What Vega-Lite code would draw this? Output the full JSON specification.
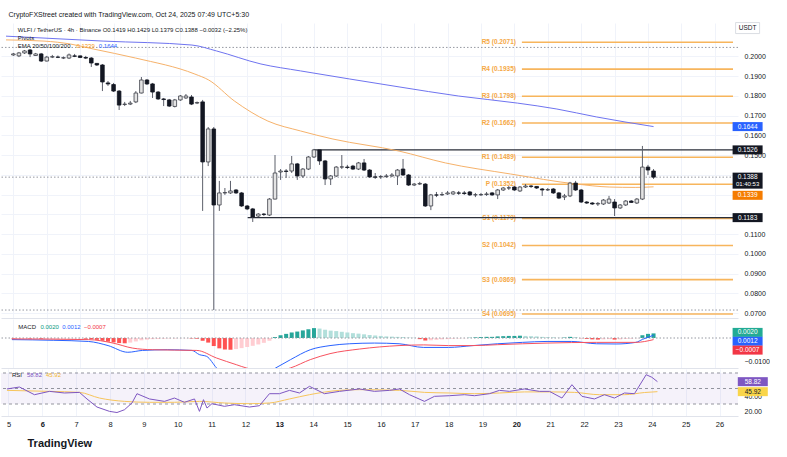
{
"$schema":"https://vega.github.io/schema/vega-lite/v6.json",
"background":"white",
"padding":{"left":0,"right":0,"top":11,"bottom":0},
"spacing":1,
"config":{"font":"Liberation Sans","view":{"stroke":null},"axis":{"gridColor":"#f0f3fa","domain":false,"ticks":false,"labelColor":"#131722","labelFontSize":7,"labelOverlap":false,"labelFlush":false,"zindex":0}},
"title":{"text":"TradingView","orient":"bottom","anchor":"start","fontSize":11,"fontWeight":"bold","color":"#131722","offset":10,"dx":27},
"datasets":{
"candles":[
{"t":5.0625,"o":0.2007,"h":0.2017,"l":0.2002,"c":0.2012},
{"t":5.2292,"o":0.2002,"h":0.2022,"l":0.1996,"c":0.2017},
{"t":5.3958,"o":0.2017,"h":0.2032,"l":0.2012,"c":0.2027},
{"t":5.5625,"o":0.2032,"h":0.2037,"l":0.1996,"c":0.2012},
{"t":5.7292,"o":0.2004,"h":0.2017,"l":0.2002,"c":0.2012},
{"t":5.8958,"o":0.2012,"h":0.2017,"l":0.1971,"c":0.1976},
{"t":6.0625,"o":0.1976,"h":0.2002,"l":0.1974,"c":0.1996},
{"t":6.2292,"o":0.1996,"h":0.2007,"l":0.1991,"c":0.1998},
{"t":6.3958,"o":0.1996,"h":0.2004,"l":0.1991,"c":0.1995},
{"t":6.5625,"o":0.1991,"h":0.1999,"l":0.1986,"c":0.1993},
{"t":6.7292,"o":0.1991,"h":0.2014,"l":0.1986,"c":0.2007},
{"t":6.8958,"o":0.2002,"h":0.2012,"l":0.1996,"c":0.2000},
{"t":7.0625,"o":0.2002,"h":0.2004,"l":0.1991,"c":0.1994},
{"t":7.2292,"o":0.1994,"h":0.2002,"l":0.1986,"c":0.1991},
{"t":7.3958,"o":0.1991,"h":0.1996,"l":0.1946,"c":0.1966},
{"t":7.5625,"o":0.1964,"h":0.1966,"l":0.1951,"c":0.1956},
{"t":7.7292,"o":0.1956,"h":0.1961,"l":0.1824,"c":0.1870},
{"t":7.8958,"o":0.1865,"h":0.1875,"l":0.1850,"c":0.1860},
{"t":8.0625,"o":0.1857,"h":0.1865,"l":0.1819,"c":0.1824},
{"t":8.2292,"o":0.1824,"h":0.1829,"l":0.1728,"c":0.1753},
{"t":8.3958,"o":0.1756,"h":0.1769,"l":0.1748,"c":0.1758},
{"t":8.5625,"o":0.1758,"h":0.1774,"l":0.1753,"c":0.1763},
{"t":8.7292,"o":0.1769,"h":0.1824,"l":0.1763,"c":0.1814},
{"t":8.8958,"o":0.1814,"h":0.1895,"l":0.1812,"c":0.1880},
{"t":9.0625,"o":0.1880,"h":0.1885,"l":0.1855,"c":0.1860},
{"t":9.2292,"o":0.1860,"h":0.1865,"l":0.1789,"c":0.1819},
{"t":9.3958,"o":0.1819,"h":0.1824,"l":0.1779,"c":0.1784},
{"t":9.5625,"o":0.1784,"h":0.1789,"l":0.1748,"c":0.1781},
{"t":9.7292,"o":0.1779,"h":0.1784,"l":0.1743,"c":0.1748},
{"t":9.8958,"o":0.1746,"h":0.1784,"l":0.1741,"c":0.1779},
{"t":10.0625,"o":0.1779,"h":0.1804,"l":0.1774,"c":0.1799},
{"t":10.2292,"o":0.1789,"h":0.1809,"l":0.1784,"c":0.1799},
{"t":10.3958,"o":0.1794,"h":0.1804,"l":0.1753,"c":0.1758},
{"t":10.5625,"o":0.1763,"h":0.1771,"l":0.1758,"c":0.1766},
{"t":10.7292,"o":0.1769,"h":0.1779,"l":0.1217,"c":0.1465},
{"t":10.8958,"o":0.1465,"h":0.1642,"l":0.1444,"c":0.1632},
{"t":11.0625,"o":0.1632,"h":0.1642,"l":0.0715,"c":0.1247},
{"t":11.2292,"o":0.1247,"h":0.1369,"l":0.1217,"c":0.1308},
{"t":11.3958,"o":0.1308,"h":0.1333,"l":0.1298,"c":0.1310},
{"t":11.5625,"o":0.1308,"h":0.1369,"l":0.1303,"c":0.1318},
{"t":11.7292,"o":0.1323,"h":0.1328,"l":0.1303,"c":0.1308},
{"t":11.8958,"o":0.1308,"h":0.1313,"l":0.1237,"c":0.1242},
{"t":12.0625,"o":0.1242,"h":0.1247,"l":0.1221,"c":0.1227},
{"t":12.2292,"o":0.1227,"h":0.1232,"l":0.1161,"c":0.1186},
{"t":12.3958,"o":0.1191,"h":0.1206,"l":0.1186,"c":0.1201},
{"t":12.5625,"o":0.1201,"h":0.1206,"l":0.1191,"c":0.1199},
{"t":12.7292,"o":0.1196,"h":0.1282,"l":0.1191,"c":0.1277},
{"t":12.8958,"o":0.1277,"h":0.1500,"l":0.1275,"c":0.1409},
{"t":13.0625,"o":0.1414,"h":0.1429,"l":0.1374,"c":0.1419},
{"t":13.2292,"o":0.1419,"h":0.1429,"l":0.1384,"c":0.1417},
{"t":13.3958,"o":0.1419,"h":0.1495,"l":0.1409,"c":0.1455},
{"t":13.5625,"o":0.1455,"h":0.1460,"l":0.1374,"c":0.1394},
{"t":13.7292,"o":0.1394,"h":0.1434,"l":0.1384,"c":0.1429},
{"t":13.8958,"o":0.1429,"h":0.1495,"l":0.1424,"c":0.1490},
{"t":14.0625,"o":0.1490,"h":0.1531,"l":0.1485,"c":0.1526},
{"t":14.2292,"o":0.1526,"h":0.1528,"l":0.1450,"c":0.1470},
{"t":14.3958,"o":0.1470,"h":0.1475,"l":0.1348,"c":0.1379},
{"t":14.5625,"o":0.1379,"h":0.1399,"l":0.1348,"c":0.1394},
{"t":14.7292,"o":0.1394,"h":0.1444,"l":0.1389,"c":0.1439},
{"t":14.8958,"o":0.1439,"h":0.1500,"l":0.1429,"c":0.1440},
{"t":15.0625,"o":0.1439,"h":0.1450,"l":0.1429,"c":0.1437},
{"t":15.2292,"o":0.1444,"h":0.1450,"l":0.1424,"c":0.1429},
{"t":15.3958,"o":0.1429,"h":0.1465,"l":0.1424,"c":0.1460},
{"t":15.5625,"o":0.1460,"h":0.1480,"l":0.1419,"c":0.1424},
{"t":15.7292,"o":0.1424,"h":0.1429,"l":0.1384,"c":0.1389},
{"t":15.8958,"o":0.1389,"h":0.1409,"l":0.1379,"c":0.1388},
{"t":16.0625,"o":0.1389,"h":0.1399,"l":0.1379,"c":0.1391},
{"t":16.2292,"o":0.1391,"h":0.1404,"l":0.1384,"c":0.1394},
{"t":16.3958,"o":0.1394,"h":0.1409,"l":0.1389,"c":0.1399},
{"t":16.5625,"o":0.1394,"h":0.1429,"l":0.1348,"c":0.1424},
{"t":16.7292,"o":0.1429,"h":0.1480,"l":0.1394,"c":0.1399},
{"t":16.8958,"o":0.1399,"h":0.1404,"l":0.1343,"c":0.1348},
{"t":17.0625,"o":0.1348,"h":0.1358,"l":0.1343,"c":0.1353},
{"t":17.2292,"o":0.1353,"h":0.1364,"l":0.1348,"c":0.1356},
{"t":17.3958,"o":0.1353,"h":0.1358,"l":0.1237,"c":0.1242},
{"t":17.5625,"o":0.1242,"h":0.1303,"l":0.1221,"c":0.1298},
{"t":17.7292,"o":0.1298,"h":0.1313,"l":0.1287,"c":0.1297},
{"t":17.8958,"o":0.1298,"h":0.1313,"l":0.1293,"c":0.1300},
{"t":18.0625,"o":0.1303,"h":0.1318,"l":0.1298,"c":0.1308},
{"t":18.2292,"o":0.1303,"h":0.1318,"l":0.1298,"c":0.1313},
{"t":18.3958,"o":0.1308,"h":0.1318,"l":0.1298,"c":0.1307},
{"t":18.5625,"o":0.1308,"h":0.1318,"l":0.1298,"c":0.1305},
{"t":18.7292,"o":0.1313,"h":0.1318,"l":0.1293,"c":0.1298},
{"t":18.8958,"o":0.1298,"h":0.1308,"l":0.1287,"c":0.1299},
{"t":19.0625,"o":0.1298,"h":0.1308,"l":0.1293,"c":0.1300},
{"t":19.2292,"o":0.1300,"h":0.1313,"l":0.1293,"c":0.1303},
{"t":19.3958,"o":0.1308,"h":0.1313,"l":0.1293,"c":0.1298},
{"t":19.5625,"o":0.1298,"h":0.1328,"l":0.1277,"c":0.1323},
{"t":19.7292,"o":0.1323,"h":0.1338,"l":0.1318,"c":0.1333},
{"t":19.8958,"o":0.1333,"h":0.1343,"l":0.1323,"c":0.1334},
{"t":20.0625,"o":0.1338,"h":0.1343,"l":0.1318,"c":0.1323},
{"t":20.2292,"o":0.1318,"h":0.1343,"l":0.1313,"c":0.1338},
{"t":20.3958,"o":0.1338,"h":0.1353,"l":0.1333,"c":0.1343},
{"t":20.5625,"o":0.1343,"h":0.1348,"l":0.1333,"c":0.1341},
{"t":20.7292,"o":0.1341,"h":0.1343,"l":0.1328,"c":0.1333},
{"t":20.8958,"o":0.1328,"h":0.1333,"l":0.1293,"c":0.1323},
{"t":21.0625,"o":0.1323,"h":0.1333,"l":0.1318,"c":0.1325},
{"t":21.2292,"o":0.1328,"h":0.1333,"l":0.1303,"c":0.1308},
{"t":21.3958,"o":0.1308,"h":0.1313,"l":0.1277,"c":0.1282},
{"t":21.5625,"o":0.1287,"h":0.1303,"l":0.1272,"c":0.1293},
{"t":21.7292,"o":0.1293,"h":0.1364,"l":0.1287,"c":0.1358},
{"t":21.8958,"o":0.1358,"h":0.1369,"l":0.1318,"c":0.1323},
{"t":22.0625,"o":0.1323,"h":0.1328,"l":0.1257,"c":0.1262},
{"t":22.2292,"o":0.1262,"h":0.1267,"l":0.1252,"c":0.1257},
{"t":22.3958,"o":0.1257,"h":0.1262,"l":0.1247,"c":0.1252},
{"t":22.5625,"o":0.1252,"h":0.1262,"l":0.1242,"c":0.1255},
{"t":22.7292,"o":0.1252,"h":0.1277,"l":0.1247,"c":0.1272},
{"t":22.8958,"o":0.1257,"h":0.1293,"l":0.1252,"c":0.1277},
{"t":23.0625,"o":0.1262,"h":0.1277,"l":0.1191,"c":0.1232},
{"t":23.2292,"o":0.1232,"h":0.1252,"l":0.1227,"c":0.1247},
{"t":23.3958,"o":0.1247,"h":0.1272,"l":0.1242,"c":0.1267},
{"t":23.5625,"o":0.1267,"h":0.1272,"l":0.1257,"c":0.1260},
{"t":23.7292,"o":0.1257,"h":0.1282,"l":0.1252,"c":0.1277},
{"t":23.8958,"o":0.1277,"h":0.1546,"l":0.1272,"c":0.1439},
{"t":24.0625,"o":0.1439,"h":0.1450,"l":0.1399,"c":0.1424},
{"t":24.2292,"o":0.1419,"h":0.1429,"l":0.1379,"c":0.1388}
],
"ema200":[{"t":4.842,"v":0.2102},{"t":7.75,"v":0.2077},{"t":10.408,"v":0.2057},{"t":11.146,"v":0.2027},{"t":12.475,"v":0.1961},{"t":13.657,"v":0.1926},{"t":15.133,"v":0.1885},{"t":16.61,"v":0.1845},{"t":18.382,"v":0.1799},{"t":20.154,"v":0.1763},{"t":21.335,"v":0.1733},{"t":22.516,"v":0.1693},{"t":24.23,"v":0.1644}],
"ema50":[{"t":4.842,"v":0.2083},{"t":5.978,"v":0.2077},{"t":6.775,"v":0.2062},{"t":7.455,"v":0.2037},{"t":8.725,"v":0.1991},{"t":10.497,"v":0.1910},{"t":10.91,"v":0.1880},{"t":11.678,"v":0.1774},{"t":12.682,"v":0.1672},{"t":13.657,"v":0.1622},{"t":14.631,"v":0.1581},{"t":16.61,"v":0.1520},{"t":17.998,"v":0.1460},{"t":19.947,"v":0.1404},{"t":21.926,"v":0.1353},{"t":22.901,"v":0.1338},{"t":23.698,"v":0.1336},{"t":24.23,"v":0.1339}],
"pivots":[{"level":"R5","value":0.2071},{"level":"R4","value":0.1935},{"level":"R3","value":0.1798},{"level":"R2","value":0.1662},{"level":"R1","value":0.1489},{"level":"P","value":0.1352},{"level":"S1","value":0.1179},{"level":"S2","value":0.1042},{"level":"S3","value":0.0869},{"level":"S4","value":0.0695}],
"hist":[
{"t":5.0625,"m":-0.0002},{"t":5.2292,"m":-0.0002},{"t":5.3958,"m":-0.0001},{"t":5.5625,"m":-0.0002},{"t":5.7292,"m":-0.0002},{"t":5.8958,"m":-0.0003},
{"t":6.0625,"m":-0.0003},{"t":6.2292,"m":-0.0003},{"t":6.3958,"m":-0.0003},{"t":6.5625,"m":-0.0002},{"t":6.7292,"m":-0.0002},{"t":6.8958,"m":-0.0002},
{"t":7.0625,"m":-0.0002},{"t":7.2292,"m":-0.0003},{"t":7.3958,"m":-0.0005},{"t":7.5625,"m":-0.0008},{"t":7.7292,"m":-0.0012},{"t":7.8958,"m":-0.0016},
{"t":8.0625,"m":-0.0019},{"t":8.2292,"m":-0.0022},{"t":8.3958,"m":-0.0023},{"t":8.5625,"m":-0.0020},{"t":8.7292,"m":-0.0015},{"t":8.8958,"m":-0.0010},
{"t":9.0625,"m":-0.0007},{"t":9.2292,"m":-0.0005},{"t":9.3958,"m":-0.0004},{"t":9.5625,"m":-0.0003},{"t":9.7292,"m":-0.0002},{"t":9.8958,"m":-0.0002},
{"t":10.0625,"m":-0.0001},{"t":10.2292,"m":-0.0001},{"t":10.3958,"m":-0.0002},{"t":10.5625,"m":-0.0003},{"t":10.7292,"m":-0.0012},{"t":10.8958,"m":-0.0020},
{"t":11.0625,"m":-0.0035},{"t":11.2292,"m":-0.0045},{"t":11.3958,"m":-0.0050},{"t":11.5625,"m":-0.0051},{"t":11.7292,"m":-0.0048},{"t":11.8958,"m":-0.0044},
{"t":12.0625,"m":-0.0039},{"t":12.2292,"m":-0.0034},{"t":12.3958,"m":-0.0028},{"t":12.5625,"m":-0.0021},{"t":12.7292,"m":-0.0012},{"t":12.8958,"m":0.0004},
{"t":13.0625,"m":0.0012},{"t":13.2292,"m":0.0018},{"t":13.3958,"m":0.0024},{"t":13.5625,"m":0.0028},{"t":13.7292,"m":0.0033},{"t":13.8958,"m":0.0038},
{"t":14.0625,"m":0.0043},{"t":14.2292,"m":0.0041},{"t":14.3958,"m":0.0036},{"t":14.5625,"m":0.0032},{"t":14.7292,"m":0.0030},{"t":14.8958,"m":0.0027},
{"t":15.0625,"m":0.0024},{"t":15.2292,"m":0.0021},{"t":15.3958,"m":0.0019},{"t":15.5625,"m":0.0016},{"t":15.7292,"m":0.0013},{"t":15.8958,"m":0.0011},
{"t":16.0625,"m":0.0009},{"t":16.2292,"m":0.0007},{"t":16.3958,"m":0.0006},{"t":16.5625,"m":0.0005},{"t":16.7292,"m":0.0004},{"t":16.8958,"m":0.0002},
{"t":17.0625,"m":0.0001},{"t":17.2292,"m":-0.0005},{"t":17.3958,"m":-0.0011},{"t":17.5625,"m":-0.0010},{"t":17.7292,"m":-0.0008},{"t":17.8958,"m":-0.0006},
{"t":18.0625,"m":-0.0005},{"t":18.2292,"m":-0.0003},{"t":18.3958,"m":-0.0002},{"t":18.5625,"m":-0.0001},{"t":18.7292,"m":0.0001},{"t":18.8958,"m":0.0003},
{"t":19.0625,"m":0.0004},{"t":19.2292,"m":0.0005},{"t":19.3958,"m":0.0005},{"t":19.5625,"m":0.0007},{"t":19.7292,"m":0.0008},{"t":19.8958,"m":0.0009},
{"t":20.0625,"m":0.0009},{"t":20.2292,"m":0.0010},{"t":20.3958,"m":0.0009},{"t":20.5625,"m":0.0008},{"t":20.7292,"m":0.0007},{"t":20.8958,"m":0.0005},
{"t":21.0625,"m":0.0004},{"t":21.2292,"m":0.0003},{"t":21.3958,"m":0.0001},{"t":21.5625,"m":0.0002},{"t":21.7292,"m":0.0005},{"t":21.8958,"m":0.0004},
{"t":22.0625,"m":-0.0001},{"t":22.2292,"m":-0.0004},{"t":22.3958,"m":-0.0006},{"t":22.5625,"m":-0.0007},{"t":22.7292,"m":-0.0006},{"t":22.8958,"m":-0.0005},
{"t":23.0625,"m":-0.0007},{"t":23.2292,"m":-0.0006},{"t":23.3958,"m":-0.0004},{"t":23.5625,"m":-0.0003},{"t":23.7292,"m":-0.0001},{"t":23.8958,"m":0.0012},
{"t":24.0625,"m":0.0018},{"t":24.2292,"m":0.0020}
],
"macd":[{"t":5.018,"v":-0.0007},{"t":6.273,"v":-0.0010},{"t":7.307,"v":-0.0015},{"t":7.898,"v":-0.0033},{"t":8.488,"v":-0.0062},{"t":8.931,"v":-0.0054},{"t":9.67,"v":-0.0051},{"t":10.408,"v":-0.0054},{"t":10.629,"v":-0.0072},{"t":10.851,"v":-0.0080},{"t":11.146,"v":-0.0130},{"t":11.6,"v":-0.0185},{"t":12.3,"v":-0.0180},{"t":12.918,"v":-0.0130},{"t":13.361,"v":-0.0094},{"t":13.952,"v":-0.0051},{"t":14.543,"v":-0.0033},{"t":15.133,"v":-0.0025},{"t":15.872,"v":-0.0022},{"t":16.61,"v":-0.0025},{"t":17.348,"v":-0.0041},{"t":18.087,"v":-0.0041},{"t":18.825,"v":-0.0033},{"t":19.563,"v":-0.0025},{"t":20.302,"v":-0.0019},{"t":21.04,"v":-0.0015},{"t":21.778,"v":-0.0015},{"t":22.517,"v":-0.0025},{"t":23.107,"v":-0.0026},{"t":23.698,"v":-0.0019},{"t":23.9,"v":-0.0006},{"t":24.229,"v":0.0012}],
"signal":[{"t":5.018,"v":-0.0004},{"t":7.307,"v":-0.0007},{"t":8.046,"v":-0.0022},{"t":8.636,"v":-0.0044},{"t":9.227,"v":-0.0051},{"t":10.556,"v":-0.0054},{"t":11.146,"v":-0.0087},{"t":11.737,"v":-0.0116},{"t":12.033,"v":-0.0130},{"t":12.6,"v":-0.0145},{"t":13.0,"v":-0.0143},{"t":13.361,"v":-0.0130},{"t":13.952,"v":-0.0094},{"t":14.543,"v":-0.0068},{"t":15.428,"v":-0.0048},{"t":16.61,"v":-0.0033},{"t":17.348,"v":-0.0030},{"t":18.087,"v":-0.0033},{"t":18.825,"v":-0.0033},{"t":19.563,"v":-0.0029},{"t":21.04,"v":-0.0022},{"t":22.517,"v":-0.0019},{"t":23.698,"v":-0.0019},{"t":24.229,"v":-0.0007}],
"rsi":[{"t":5.018,"v":49.4},{"t":5.387,"v":51.9},{"t":5.83,"v":42.0},{"t":6.273,"v":46.3},{"t":6.716,"v":44.2},{"t":7.159,"v":45.0},{"t":7.381,"v":36.5},{"t":7.676,"v":26.1},{"t":8.046,"v":20.5},{"t":8.267,"v":19.0},{"t":8.488,"v":22.6},{"t":8.71,"v":31.3},{"t":8.858,"v":43.3},{"t":9.227,"v":36.5},{"t":9.67,"v":33.4},{"t":9.965,"v":37.7},{"t":10.26,"v":32.2},{"t":10.556,"v":36.5},{"t":10.703,"v":20.5},{"t":10.822,"v":35.6},{"t":10.925,"v":24.8},{"t":11.072,"v":30.4},{"t":11.442,"v":27.0},{"t":11.737,"v":29.1},{"t":12.18,"v":26.1},{"t":12.475,"v":27.8},{"t":12.77,"v":43.3},{"t":13.066,"v":43.3},{"t":13.361,"v":47.6},{"t":13.657,"v":44.2},{"t":13.952,"v":52.8},{"t":14.395,"v":43.3},{"t":14.838,"v":46.3},{"t":15.428,"v":49.4},{"t":15.872,"v":46.3},{"t":16.315,"v":47.6},{"t":16.61,"v":49.4},{"t":16.906,"v":42.0},{"t":17.348,"v":33.4},{"t":17.644,"v":39.9},{"t":18.087,"v":40.7},{"t":18.53,"v":42.0},{"t":18.825,"v":40.7},{"t":19.268,"v":43.3},{"t":19.563,"v":47.6},{"t":19.859,"v":46.3},{"t":20.302,"v":49.4},{"t":20.745,"v":46.3},{"t":21.04,"v":46.3},{"t":21.409,"v":37.7},{"t":21.704,"v":54.9},{"t":22.0,"v":39.9},{"t":22.369,"v":36.5},{"t":22.664,"v":42.0},{"t":22.96,"v":37.7},{"t":23.255,"v":44.2},{"t":23.55,"v":43.3},{"t":23.896,"v":67.8},{"t":24.063,"v":64.5},{"t":24.229,"v":58.82}],
"rsima":[{"t":5.018,"v":47.6},{"t":6.273,"v":46.3},{"t":7.159,"v":45.0},{"t":7.75,"v":37.7},{"t":8.488,"v":33.4},{"t":9.227,"v":32.2},{"t":9.965,"v":32.2},{"t":10.703,"v":33.4},{"t":11.442,"v":31.3},{"t":12.18,"v":30.4},{"t":12.77,"v":31.3},{"t":13.361,"v":36.5},{"t":13.952,"v":42.0},{"t":14.838,"v":47.6},{"t":15.428,"v":48.5},{"t":16.61,"v":47.6},{"t":17.348,"v":45.0},{"t":18.087,"v":44.2},{"t":18.825,"v":43.3},{"t":19.563,"v":44.2},{"t":20.302,"v":45.6},{"t":21.04,"v":45.6},{"t":21.778,"v":45.0},{"t":22.517,"v":42.0},{"t":23.255,"v":42.0},{"t":23.846,"v":44.8},{"t":24.229,"v":45.92}]
},
"vconcat":[
{
"width":737,"height":295,
"title":{"text":"CryptoFXStreet created with TradingView.com, Oct 24, 2025 07:49 UTC+5:30","anchor":"start","fontSize":7,"fontWeight":"normal","color":"#131722","offset":4,"dx":8},
"layer":[
{"data":{"name":"candles"},"mark":{"type":"rule","color":"#5d606b","strokeWidth":1,"opacity":0},"encoding":{
"x":{"field":"t","type":"quantitative","title":null,"scale":{"domain":[4.842,26.608],"nice":false,"zero":false},"axis":{"values":[5.0625,6.0625,7.0625,8.0625,9.0625,10.0625,11.0625,12.0625,13.0625,14.0625,15.0625,16.0625,17.0625,18.0625,19.0625,20.0625,21.0625,22.0625,23.0625,24.0625,25.0625,26.0625],"tickCount":50,"labels":false,"grid":true,"domain":true,"domainColor":"#e0e3eb"}},
"y":{"field":"l","type":"quantitative","title":null,"scale":{"domain":[0.06747,0.21686],"nice":false,"zero":false},"axis":{"orient":"right","values":[0.07,0.08,0.09,0.1,0.11,0.12,0.13,0.14,0.15,0.16,0.17,0.18,0.19,0.2],"tickCount":50,"labelExpr":"datum.value > 0.115 && datum.value < 0.145 ? '' : format(datum.value, '.4f')","labelPadding":6,"labelOverlap":false,"grid":true}},
"y2":{"field":"h"}}},
{"data":{"values":[{"v":0.2045},{"v":0.0715},{"v":0.1388}]},"mark":{"type":"rule","color":"#9598a1","strokeDash":[1.5,2],"strokeWidth":1},"encoding":{"y":{"field":"v","type":"quantitative","title":null}}},
{"data":{"name":"pivots"},"mark":{"type":"rule","color":"#f7b55c","strokeWidth":1.6},"encoding":{"x":{"datum":20.288},"x2":{"datum":26.608},"y":{"field":"value","type":"quantitative","title":null}}},
{"data":{"name":"pivots"},"transform":[{"calculate":"datum.level + ' (' + format(datum.value, '.4f') + ')'","as":"lbl"}],"mark":{"type":"text","align":"right","baseline":"middle","fontSize":6.5,"fontWeight":"bold","color":"#f5a845"},"encoding":{"x":{"datum":20.11},"y":{"field":"value","type":"quantitative","title":null},"text":{"field":"lbl"}}},
{"data":{"values":[{"start":14.056,"v":0.1526},{"start":12.077,"v":0.1183}]},"mark":{"type":"rule","color":"#2a2e39","strokeWidth":1.3},"encoding":{"x":{"field":"start","type":"quantitative","title":null},"x2":{"datum":26.608},"y":{"field":"v","type":"quantitative","title":null}}},
{"data":{"name":"ema200"},"mark":{"type":"line","color":"#6f74f0","strokeWidth":1,"interpolate":"monotone"},"encoding":{"x":{"field":"t","type":"quantitative","title":null},"y":{"field":"v","type":"quantitative","title":null}}},
{"data":{"name":"ema50"},"mark":{"type":"line","color":"#f6b26b","strokeWidth":1,"interpolate":"monotone"},"encoding":{"x":{"field":"t","type":"quantitative","title":null},"y":{"field":"v","type":"quantitative","title":null}}},
{"data":{"name":"candles"},"mark":{"type":"rule","color":"#5d606b","strokeWidth":1},"encoding":{"x":{"field":"t","type":"quantitative","title":null},"y":{"field":"l","type":"quantitative","title":null},"y2":{"field":"h"}}},
{"data":{"name":"candles"},"mark":{"type":"bar","width":3.6,"strokeWidth":0.8},"encoding":{"x":{"field":"t","type":"quantitative","title":null},"y":{"field":"o","type":"quantitative","title":null},"y2":{"field":"c"},
"fill":{"condition":{"test":"datum.c >= datum.o","value":"#e4e4e4"},"value":"#131722"},
"stroke":{"condition":{"test":"datum.c >= datum.o","value":"#3c3f48"},"value":"#131722"}}},
{"data":{"values":[{}]},"mark":{"type":"text","text":"WLFI / TetherUS · 4h · Binance","align":"left","baseline":"middle","fontSize":6,"color":"#131722"},"encoding":{"x":{"datum":5.196},"y":{"datum":0.2133}}},
{"data":{"values":[{}]},"mark":{"type":"text","text":"O0.1419 H0.1429 L0.1379 C0.1388 −0.0032 (−2.25%)","align":"left","baseline":"middle","fontSize":6,"color":"#131722"},"encoding":{"x":{"datum":7.736},"y":{"datum":0.2133}}},
{"data":{"values":[{}]},"mark":{"type":"text","text":"Pivots","align":"left","baseline":"middle","fontSize":6,"color":"#131722"},"encoding":{"x":{"datum":5.196},"y":{"datum":0.2094}}},
{"data":{"values":[{}]},"mark":{"type":"text","text":"EMA 20/50/100/200","align":"left","baseline":"middle","fontSize":6,"color":"#131722"},"encoding":{"x":{"datum":5.196},"y":{"datum":0.2052}}},
{"data":{"values":[{}]},"mark":{"type":"text","text":"0.1339","align":"left","baseline":"middle","fontSize":6,"color":"#f59a23"},"encoding":{"x":{"datum":6.95},"y":{"datum":0.2052}}},
{"data":{"values":[{}]},"mark":{"type":"text","text":"0.1644","align":"left","baseline":"middle","fontSize":6,"color":"#2962ff"},"encoding":{"x":{"datum":7.62},"y":{"datum":0.2052}}},
{"data":{"values":[{}]},"mark":{"type":"tick","orient":"horizontal","size":24,"thickness":11,"filled":false,"color":"#d1d4dc","strokeWidth":0.8,"opacity":1},"encoding":{"x":{"datum":27.045},"y":{"datum":0.2143}}},
{"data":{"values":[{}]},"mark":{"type":"text","text":"USDT","align":"center","baseline":"middle","fontSize":6.5,"color":"#131722"},"encoding":{"x":{"datum":27.045},"y":{"datum":0.2143}}},
{"data":{"values":[{}]},"mark":{"type":"tick","orient":"horizontal","size":30,"thickness":9,"color":"#2962ff","opacity":1},"encoding":{"x":{"datum":27.045},"y":{"datum":0.1644}}},
{"data":{"values":[{}]},"mark":{"type":"text","text":"0.1644","align":"center","baseline":"middle","fontSize":6.5,"color":"white"},"encoding":{"x":{"datum":27.045},"y":{"datum":0.1644}}},
{"data":{"values":[{}]},"mark":{"type":"tick","orient":"horizontal","size":30,"thickness":9,"color":"#131722","opacity":1},"encoding":{"x":{"datum":27.045},"y":{"datum":0.1526}}},
{"data":{"values":[{}]},"mark":{"type":"text","text":"0.1526","align":"center","baseline":"middle","fontSize":6.5,"color":"white"},"encoding":{"x":{"datum":27.045},"y":{"datum":0.1526}}},
{"data":{"values":[{}]},"mark":{"type":"tick","orient":"horizontal","size":30,"thickness":16,"yOffset":3.5,"color":"#131722","opacity":1},"encoding":{"x":{"datum":27.045},"y":{"datum":0.1388}}},
{"data":{"values":[{}]},"mark":{"type":"text","text":"0.1388","align":"center","baseline":"middle","fontSize":6.5,"color":"white"},"encoding":{"x":{"datum":27.045},"y":{"datum":0.1388}}},
{"data":{"values":[{}]},"mark":{"type":"text","text":"01:40:53","align":"center","baseline":"middle","fontSize":6,"yOffset":7,"color":"white"},"encoding":{"x":{"datum":27.045},"y":{"datum":0.1388}}},
{"data":{"values":[{}]},"mark":{"type":"tick","orient":"horizontal","size":30,"thickness":9,"yOffset":8.5,"color":"#f57c00","opacity":1},"encoding":{"x":{"datum":27.045},"y":{"datum":0.1339}}},
{"data":{"values":[{}]},"mark":{"type":"text","text":"0.1339","align":"center","baseline":"middle","fontSize":6.5,"yOffset":8.5,"color":"white"},"encoding":{"x":{"datum":27.045},"y":{"datum":0.1339}}},
{"data":{"values":[{}]},"mark":{"type":"tick","orient":"horizontal","size":30,"thickness":9,"color":"#131722","opacity":1},"encoding":{"x":{"datum":27.045},"y":{"datum":0.1183}}},
{"data":{"values":[{}]},"mark":{"type":"text","text":"0.1183","align":"center","baseline":"middle","fontSize":6.5,"color":"white"},"encoding":{"x":{"datum":27.045},"y":{"datum":0.1183}}}
]
},
{
"width":737,"height":49,
"layer":[
{"data":{"name":"hist"},"transform":[{"window":[{"op":"lag","field":"m","as":"pm"}],"sort":[{"field":"t"}]}],"mark":{"type":"bar","width":4},"encoding":{
"x":{"field":"t","type":"quantitative","title":null,"scale":{"domain":[4.842,26.608],"nice":false,"zero":false},"axis":{"values":[5.0625,6.0625,7.0625,8.0625,9.0625,10.0625,11.0625,12.0625,13.0625,14.0625,15.0625,16.0625,17.0625,18.0625,19.0625,20.0625,21.0625,22.0625,23.0625,24.0625,25.0625,26.0625],"tickCount":50,"labels":false,"grid":true,"domain":true,"domainColor":"#e0e3eb"}},
"y":{"field":"m","type":"quantitative","title":null,"scale":{"domain":[-0.01304,0.00826],"nice":false,"zero":false},"axis":{"orient":"right","values":[-0.01],"format":".4f","labelPadding":6,"labelOverlap":false,"grid":false}},
"y2":{"datum":0},
"color":{"condition":[{"test":"datum.m >= 0 && datum.m >= datum.pm","value":"#26a69a"},{"test":"datum.m >= 0","value":"#b2dfdb"},{"test":"datum.m < datum.pm","value":"#ff5252"}],"value":"#ffcdd2"}}},
{"data":{"values":[{}]},"mark":{"type":"rule","color":"#9598a1","strokeDash":[1.5,2],"strokeWidth":1},"encoding":{"y":{"datum":0}}},
{"data":{"name":"macd"},"mark":{"type":"line","color":"#2962ff","strokeWidth":1,"clip":true,"interpolate":"monotone"},"encoding":{"x":{"field":"t","type":"quantitative","title":null},"y":{"field":"v","type":"quantitative","title":null}}},
{"data":{"name":"signal"},"mark":{"type":"line","color":"#f7525f","strokeWidth":1,"clip":true,"interpolate":"monotone"},"encoding":{"x":{"field":"t","type":"quantitative","title":null},"y":{"field":"v","type":"quantitative","title":null}}},
{"data":{"values":[{}]},"mark":{"type":"text","text":"MACD","align":"left","baseline":"middle","fontSize":6,"color":"#131722"},"encoding":{"x":{"datum":5.211},"y":{"datum":0.0048}}},
{"data":{"values":[{}]},"mark":{"type":"text","text":"0.0020","align":"left","baseline":"middle","fontSize":6,"color":"#089981"},"encoding":{"x":{"datum":5.875},"y":{"datum":0.0048}}},
{"data":{"values":[{}]},"mark":{"type":"text","text":"0.0012","align":"left","baseline":"middle","fontSize":6,"color":"#2962ff"},"encoding":{"x":{"datum":6.525},"y":{"datum":0.0048}}},
{"data":{"values":[{}]},"mark":{"type":"text","text":"−0.0007","align":"left","baseline":"middle","fontSize":6,"color":"#f23645"},"encoding":{"x":{"datum":7.175},"y":{"datum":0.0048}}},
{"data":{"values":[{}]},"mark":{"type":"tick","orient":"horizontal","size":30,"thickness":9,"yOffset":-1,"color":"#22ab94","opacity":1},"encoding":{"x":{"datum":27.045},"y":{"datum":0.0020}}},
{"data":{"values":[{}]},"mark":{"type":"text","text":"0.0020","align":"center","baseline":"middle","fontSize":6.5,"yOffset":-1,"color":"white"},"encoding":{"x":{"datum":27.045},"y":{"datum":0.0020}}},
{"data":{"values":[{}]},"mark":{"type":"tick","orient":"horizontal","size":30,"thickness":9,"yOffset":6,"color":"#2962ff","opacity":1},"encoding":{"x":{"datum":27.045},"y":{"datum":0.0012}}},
{"data":{"values":[{}]},"mark":{"type":"text","text":"0.0012","align":"center","baseline":"middle","fontSize":6.5,"yOffset":6,"color":"white"},"encoding":{"x":{"datum":27.045},"y":{"datum":0.0012}}},
{"data":{"values":[{}]},"mark":{"type":"tick","orient":"horizontal","size":30,"thickness":9,"yOffset":10.5,"color":"#f23645","opacity":1},"encoding":{"x":{"datum":27.045},"y":{"datum":-0.0007}}},
{"data":{"values":[{}]},"mark":{"type":"text","text":"−0.0007","align":"center","baseline":"middle","fontSize":6.5,"yOffset":10.5,"color":"white"},"encoding":{"x":{"datum":27.045},"y":{"datum":-0.0007}}}
]
},
{
"width":737,"height":47,
"layer":[
{"data":{"values":[{}]},"mark":{"type":"rect","color":"#7e57c2","opacity":0.08},"encoding":{"x":{"datum":4.842},"x2":{"datum":26.608},"y":{"datum":30},"y2":{"datum":70}}},
{"data":{"values":[{"v":70},{"v":50},{"v":30}]},"mark":{"type":"rule","color":"#787b86","strokeDash":[3,3],"strokeWidth":0.8},"encoding":{"y":{"field":"v","type":"quantitative","title":null}}},
{"data":{"name":"rsima"},"mark":{"type":"line","color":"#f7c55c","strokeWidth":1,"interpolate":"monotone"},"encoding":{"x":{"field":"t","type":"quantitative","title":null},"y":{"field":"v","type":"quantitative","title":null}}},
{"data":{"name":"rsi"},"mark":{"type":"line","color":"#7e57c2","strokeWidth":1},"encoding":{
"x":{"field":"t","type":"quantitative","title":null,"scale":{"domain":[4.842,26.608],"nice":false,"zero":false},"axis":{"values":[5.0625,6.0625,7.0625,8.0625,9.0625,10.0625,11.0625,12.0625,13.0625,14.0625,15.0625,16.0625,17.0625,18.0625,19.0625,20.0625,21.0625,22.0625,23.0625,24.0625,25.0625,26.0625],"tickCount":50,"labelExpr":"format(floor(datum.value), 'd')","labelFontSize":7.5,"labelPadding":4,"labelOverlap":false,"labelFontWeight":{"condition":{"test":"floor(datum.value) == 6 || floor(datum.value) == 13 || floor(datum.value) == 20","value":"bold"},"value":"normal"},"grid":true,"domain":true,"domainColor":"#e0e3eb"}},
"y":{"field":"v","type":"quantitative","title":null,"scale":{"domain":[14.52,75.16],"nice":false,"zero":false},"axis":{"orient":"right","values":[20,40],"tickCount":10,"format":".2f","labelPadding":6,"labelOverlap":false,"grid":false}}}},
{"data":{"values":[{}]},"mark":{"type":"text","text":"RSI","align":"left","baseline":"middle","fontSize":6,"color":"#131722"},"encoding":{"x":{"datum":5.167},"y":{"datum":67.4}}},
{"data":{"values":[{}]},"mark":{"type":"text","text":"58.82","align":"left","baseline":"middle","fontSize":6,"color":"#7e57c2"},"encoding":{"x":{"datum":5.61},"y":{"datum":67.4}}},
{"data":{"values":[{}]},"mark":{"type":"text","text":"45.92","align":"left","baseline":"middle","fontSize":6,"color":"#f2b830"},"encoding":{"x":{"datum":6.171},"y":{"datum":67.4}}},
{"data":{"values":[{}]},"mark":{"type":"tick","orient":"horizontal","size":30,"thickness":9,"color":"#7e57c2","opacity":1},"encoding":{"x":{"datum":27.045},"y":{"datum":58.82}}},
{"data":{"values":[{}]},"mark":{"type":"text","text":"58.82","align":"center","baseline":"middle","fontSize":6.5,"color":"white"},"encoding":{"x":{"datum":27.045},"y":{"datum":58.82}}},
{"data":{"values":[{}]},"mark":{"type":"tick","orient":"horizontal","size":30,"thickness":9,"color":"#f9d54a","opacity":1},"encoding":{"x":{"datum":27.045},"y":{"datum":45.92}}},
{"data":{"values":[{}]},"mark":{"type":"text","text":"45.92","align":"center","baseline":"middle","fontSize":6.5,"color":"#131722"},"encoding":{"x":{"datum":27.045},"y":{"datum":45.92}}}
]
}
]
}
